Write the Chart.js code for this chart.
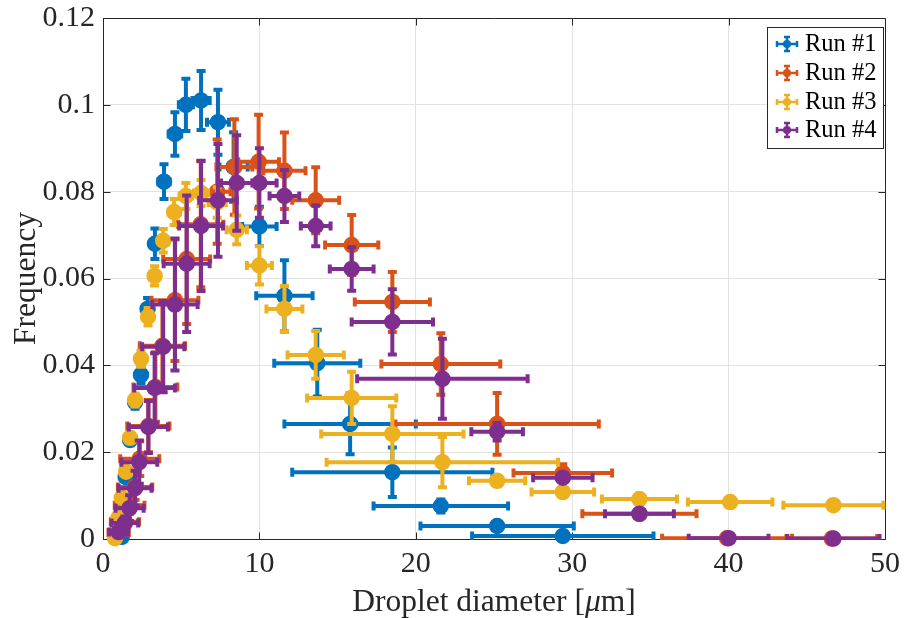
<!DOCTYPE html>
<html>
<head>
<meta charset="utf-8">
<script src="https://cdn.jsdelivr.net/npm/chart.js@4/dist/chart.umd.min.js"></script>
<style>
  html, body { margin: 0; padding: 0; background: #ffffff; }
  canvas { display: block; }
</style>
</head>
<body>
<canvas id="c" width="909" height="618"></canvas>
<script>
// Droplet size distributions, four runs, with x and y uncertainty
const seriesNames = ['Run #1', 'Run #2', 'Run #3', 'Run #4'];
const seriesColors = ['#0072BD', '#D95319', '#EDB120', '#7E2F8E'];

const run1X    = [1.2, 1.45, 1.73, 2.05, 2.43, 2.85, 3.32, 3.9, 4.6, 5.3, 6.27, 7.35, 8.35, 10.0, 11.6, 13.7, 15.8, 18.5, 21.6, 25.2, 29.4];
const run1Y    = [0.0005, 0.0143, 0.0228, 0.0315, 0.0378, 0.053, 0.068, 0.0823, 0.0933, 0.100, 0.101, 0.096, 0.0857, 0.072, 0.056, 0.0405, 0.0265, 0.0154, 0.0076, 0.003, 0.0007];
const run1XErr = [0.1, 0.12, 0.12, 0.14, 0.2, 0.25, 0.3, 0.35, 0.4, 0.45, 0.55, 0.7, 0.9, 1.1, 1.8, 2.75, 4.2, 6.4, 4.3, 4.9, 5.8];
const run1YErr = [0.0005, 0.001, 0.0012, 0.0015, 0.002, 0.0025, 0.0035, 0.004, 0.005, 0.006, 0.0068, 0.0075, 0.008, 0.0045, 0.0082, 0.0077, 0.007, 0.0057, 0.0015, 0.001, 0.0005];

const run2X    = [1.0, 1.4, 1.7, 2.05, 2.35, 2.9, 3.35, 3.8, 4.6, 5.35, 6.25, 7.3, 8.4, 9.95, 11.6, 13.6, 15.9, 18.5, 21.6, 25.2, 29.4, 34.3, 39.9, 46.6];
const run2Y    = [0.0015, 0.004, 0.0078, 0.012, 0.0185, 0.026, 0.035, 0.0445, 0.055, 0.0645, 0.0725, 0.080, 0.0857, 0.0869, 0.0848, 0.078, 0.0677, 0.0546, 0.0403, 0.0265, 0.0152, 0.0058, 0.0002, 0.0001];
const run2XErr = [0.65, 0.9, 0.95, 1.1, 1.25, 1.35, 1.4, 1.45, 1.5, 1.5, 1.45, 0.85, 1.15, 1.3, 1.35, 1.5, 1.7, 2.4, 3.8, 6.5, 3.15, 3.65, 4.15, 2.9];
const run2YErr = [0.001, 0.0015, 0.002, 0.003, 0.004, 0.006, 0.008, 0.010, 0.014, 0.015, 0.0145, 0.012, 0.011, 0.0108, 0.0088, 0.0076, 0.0069, 0.0069, 0.0071, 0.0071, 0.002, 0.001, 0.0005, 0.0005];

const run3X    = [0.77, 0.98, 1.2, 1.47, 1.73, 2.05, 2.43, 2.88, 3.3, 3.85, 4.55, 5.3, 6.27, 7.3, 8.55, 10.0, 11.6, 13.6, 15.9, 18.5, 21.7, 25.2, 29.4, 34.3, 40.1, 46.7];
const run3Y    = [0.0002, 0.0048, 0.0095, 0.0155, 0.0233, 0.032, 0.0415, 0.0512, 0.0606, 0.0687, 0.0753, 0.079, 0.0797, 0.0775, 0.0712, 0.063, 0.053, 0.0424, 0.0325, 0.0242, 0.0177, 0.0134, 0.0108, 0.0092, 0.0085, 0.0078];
const run3XErr = [0.05, 0.06, 0.08, 0.1, 0.12, 0.14, 0.17, 0.2, 0.25, 0.3, 0.35, 0.4, 0.45, 0.55, 0.65, 0.8, 1.15, 1.8, 2.85, 4.55, 7.4, 1.8, 2.0, 2.4, 2.7, 3.2];
const run3YErr = [0.0003, 0.0005, 0.0008, 0.001, 0.0012, 0.0015, 0.0018, 0.002, 0.0022, 0.0027, 0.003, 0.003, 0.003, 0.0035, 0.0033, 0.0044, 0.0053, 0.0055, 0.006, 0.0064, 0.0058, 0.001, 0.001, 0.0008, 0.0008, 0.0006];

const run4X    = [1.0, 1.4, 1.7, 2.05, 2.32, 2.9, 3.3, 3.85, 4.6, 5.35, 6.27, 7.35, 8.55, 10.0, 11.6, 13.6, 15.9, 18.5, 21.7, 25.2, 29.4, 34.3, 40.0, 46.7];
const run4Y    = [0.0016, 0.0037, 0.0071, 0.0117, 0.0177, 0.0258, 0.0348, 0.0443, 0.054, 0.0634, 0.0721, 0.078, 0.082, 0.082, 0.079, 0.0721, 0.0622, 0.050, 0.0369, 0.0247, 0.0141, 0.0058, 0.0002, 0.0001];
const run4XErr = [0.6, 0.85, 0.9, 1.05, 1.15, 1.25, 1.3, 1.35, 1.45, 1.47, 1.4, 1.2, 1.0, 1.1, 0.95, 0.95, 1.4, 2.6, 5.45, 1.65, 1.9, 2.2, 2.55, 2.95];
const run4YErr = [0.001, 0.0015, 0.003, 0.004, 0.005, 0.006, 0.008, 0.0105, 0.0152, 0.0157, 0.015, 0.013, 0.011, 0.008, 0.006, 0.0047, 0.005, 0.0075, 0.0092, 0.002, 0.001, 0.0007, 0.0005, 0.0005];

const xTicks = [0, 10, 20, 30, 40, 50];
const xTickLabels = ['0', '10', '20', '30', '40', '50'];
const yTicks = [0, 0.02, 0.04, 0.06, 0.08, 0.1, 0.12];
const yTickLabels = ['0', '0.02', '0.04', '0.06', '0.08', '0.1', '0.12'];

const runs = [
  [run1X, run1Y, run1XErr, run1YErr],
  [run2X, run2Y, run2XErr, run2YErr],
  [run3X, run3Y, run3XErr, run3YErr],
  [run4X, run4Y, run4XErr, run4YErr]
];

const SERIF = "'Liberation Serif', 'Times New Roman', serif";
const AXIS_INK = '#262626';
const TICK_FONT = 30;
const TITLE_FONT = 31.5;
const BAR_WIDTH = 4;
const CAP_HALF = 4.5;

const datasets = runs.map(([xs, ys, xe, ye], k) => ({
  label: seriesNames[k],
  data: xs.map((x, i) => ({ x: x, y: ys[i] })),
  xErr: xe,
  yErr: ye,
  borderColor: seriesColors[k],
  backgroundColor: seriesColors[k],
  pointRadius: 7.5,
  pointHoverRadius: 7.5,
  pointBorderWidth: 1.5,
  showLine: false,
  clip: false,
  order: runs.length - k   // later runs are drawn on top
}));

// error bars of each run are painted just before that run's markers
const errorBarPlugin = {
  id: 'errorBars',
  beforeDatasetDraw(chart, args) {
    const ds = chart.data.datasets[args.index];
    const sx = chart.scales.x, sy = chart.scales.y;
    const a = chart.chartArea;
    const ctx = chart.ctx;
    ctx.save();
    ctx.beginPath();
    ctx.rect(a.left - 1, a.top - 1, a.right - a.left + 2, a.bottom - a.top + 2);
    ctx.clip();
    ctx.strokeStyle = ds.borderColor;
    ctx.lineWidth = BAR_WIDTH;
    ctx.lineCap = 'butt';
    ds.data.forEach((p, i) => {
      const cx = sx.getPixelForValue(p.x), cy = sy.getPixelForValue(p.y);
      const x0 = sx.getPixelForValue(p.x - ds.xErr[i]);
      const x1 = sx.getPixelForValue(p.x + ds.xErr[i]);
      const y0 = sy.getPixelForValue(p.y - ds.yErr[i]);
      const y1 = sy.getPixelForValue(p.y + ds.yErr[i]);
      ctx.beginPath();
      ctx.moveTo(x0, cy); ctx.lineTo(x1, cy);
      ctx.moveTo(cx, y0); ctx.lineTo(cx, y1);
      ctx.moveTo(x0, cy - CAP_HALF); ctx.lineTo(x0, cy + CAP_HALF);
      ctx.moveTo(x1, cy - CAP_HALF); ctx.lineTo(x1, cy + CAP_HALF);
      ctx.moveTo(cx - CAP_HALF, y0); ctx.lineTo(cx + CAP_HALF, y0);
      ctx.moveTo(cx - CAP_HALF, y1); ctx.lineTo(cx + CAP_HALF, y1);
      ctx.stroke();
    });
    ctx.restore();
  }
};

// box outline with inward tick marks on all four sides
const axesBoxPlugin = {
  id: 'axesBox',
  beforeDatasetsDraw(chart) {
    const a = chart.chartArea;
    const sx = chart.scales.x, sy = chart.scales.y;
    const ctx = chart.ctx;
    const L = Math.round(a.left) + 0.5, R = Math.round(a.right) + 0.5;
    const T = Math.round(a.top) + 0.5, B = Math.round(a.bottom) + 0.5;
    const tl = 7;
    ctx.save();
    ctx.strokeStyle = AXIS_INK;
    ctx.lineWidth = 1;
    ctx.beginPath();
    ctx.rect(L, T, R - L, B - T);
    xTicks.forEach(v => {
      const px = Math.round(sx.getPixelForValue(v)) + 0.5;
      ctx.moveTo(px, B); ctx.lineTo(px, B - tl);
      ctx.moveTo(px, T); ctx.lineTo(px, T + tl);
    });
    yTicks.forEach(v => {
      const py = Math.round(sy.getPixelForValue(v)) + 0.5;
      ctx.moveTo(L, py); ctx.lineTo(L + tl, py);
      ctx.moveTo(R, py); ctx.lineTo(R - tl, py);
    });
    ctx.stroke();
    ctx.restore();
  }
};

// x-axis title with an italic mu, and the boxed legend in the upper right
const labelsPlugin = {
  id: 'labelsAndLegend',
  afterDraw(chart) {
    const ctx = chart.ctx;
    const a = chart.chartArea;
    ctx.save();
    // x title
    const parts = [
      { t: 'Droplet diameter [', f: TITLE_FONT + 'px ' + SERIF },
      { t: '\u03BC', f: 'italic ' + TITLE_FONT + 'px ' + SERIF },
      { t: 'm]', f: TITLE_FONT + 'px ' + SERIF }
    ];
    let total = 0;
    parts.forEach(p => { ctx.font = p.f; p.w = ctx.measureText(p.t).width; total += p.w; });
    let x = (a.left + a.right) / 2 - total / 2;
    ctx.fillStyle = AXIS_INK;
    ctx.textBaseline = 'alphabetic';
    ctx.textAlign = 'left';
    parts.forEach(p => { ctx.font = p.f; ctx.fillText(p.t, x, 611); x += p.w; });

    // legend
    const bx = 767.5, by = 27.5, bw = 116, bh = 121;
    ctx.fillStyle = '#ffffff';
    ctx.fillRect(bx, by, bw, bh);
    ctx.strokeStyle = AXIS_INK;
    ctx.lineWidth = 1;
    ctx.strokeRect(bx, by, bw, bh);
    const rowY = [44, 73, 102, 130];
    seriesNames.forEach((name, k) => {
      const cy = rowY[k], cx = 787;
      ctx.strokeStyle = seriesColors[k];
      ctx.fillStyle = seriesColors[k];
      ctx.lineWidth = 2.5;
      ctx.beginPath();
      ctx.moveTo(cx - 10, cy); ctx.lineTo(cx + 10, cy);
      ctx.moveTo(cx, cy - 7); ctx.lineTo(cx, cy + 7);
      ctx.moveTo(cx - 10, cy - 3); ctx.lineTo(cx - 10, cy + 3);
      ctx.moveTo(cx + 10, cy - 3); ctx.lineTo(cx + 10, cy + 3);
      ctx.moveTo(cx - 3, cy - 7); ctx.lineTo(cx + 3, cy - 7);
      ctx.moveTo(cx - 3, cy + 7); ctx.lineTo(cx + 3, cy + 7);
      ctx.stroke();
      ctx.beginPath();
      ctx.arc(cx, cy, 4, 0, Math.PI * 2);
      ctx.fill();
      ctx.fillStyle = '#000000';
      ctx.font = '24.5px ' + SERIF;
      ctx.textBaseline = 'middle';
      ctx.fillText(name, 805, cy + 1);
    });
    ctx.restore();
  }
};

new Chart(document.getElementById('c'), {
  type: 'scatter',
  data: { datasets: datasets },
  plugins: [errorBarPlugin, axesBoxPlugin, labelsPlugin],
  options: {
    responsive: false,
    animation: false,
    devicePixelRatio: 1,
    events: [],
    layout: { padding: { left: 0, right: 24, top: 18, bottom: 0 } },
    plugins: { legend: { display: false }, tooltip: { enabled: false } },
    scales: {
      x: {
        type: 'linear',
        min: 0, max: 50,
        afterBuildTicks: s => { s.ticks = xTicks.map(v => ({ value: v })); },
        afterFit: s => { s.height = 79; s.paddingLeft = 0; s.paddingRight = 0; },
        grid: { color: '#e3e3e3', lineWidth: 1, drawTicks: false },
        border: { display: false },
        ticks: {
          autoSkip: false, maxRotation: 0, padding: 7,
          color: AXIS_INK,
          font: { family: SERIF, size: TICK_FONT },
          callback: (v, i) => xTickLabels[i]
        }
      },
      y: {
        type: 'linear',
        min: 0, max: 0.12,
        afterBuildTicks: s => { s.ticks = yTicks.map(v => ({ value: v })); },
        afterFit: s => { s.width = 103; s.paddingTop = 0; s.paddingBottom = 0; },
        grid: { color: '#e3e3e3', lineWidth: 1, drawTicks: false },
        border: { display: false },
        ticks: {
          autoSkip: false, padding: 8,
          color: AXIS_INK,
          font: { family: SERIF, size: TICK_FONT },
          callback: (v, i) => yTickLabels[i]
        },
        title: {
          display: true,
          text: 'Frequency',
          color: AXIS_INK,
          font: { family: SERIF, size: TITLE_FONT },
          padding: { top: 8, bottom: 0 }
        }
      }
    }
  }
});
</script>
</body>
</html>
